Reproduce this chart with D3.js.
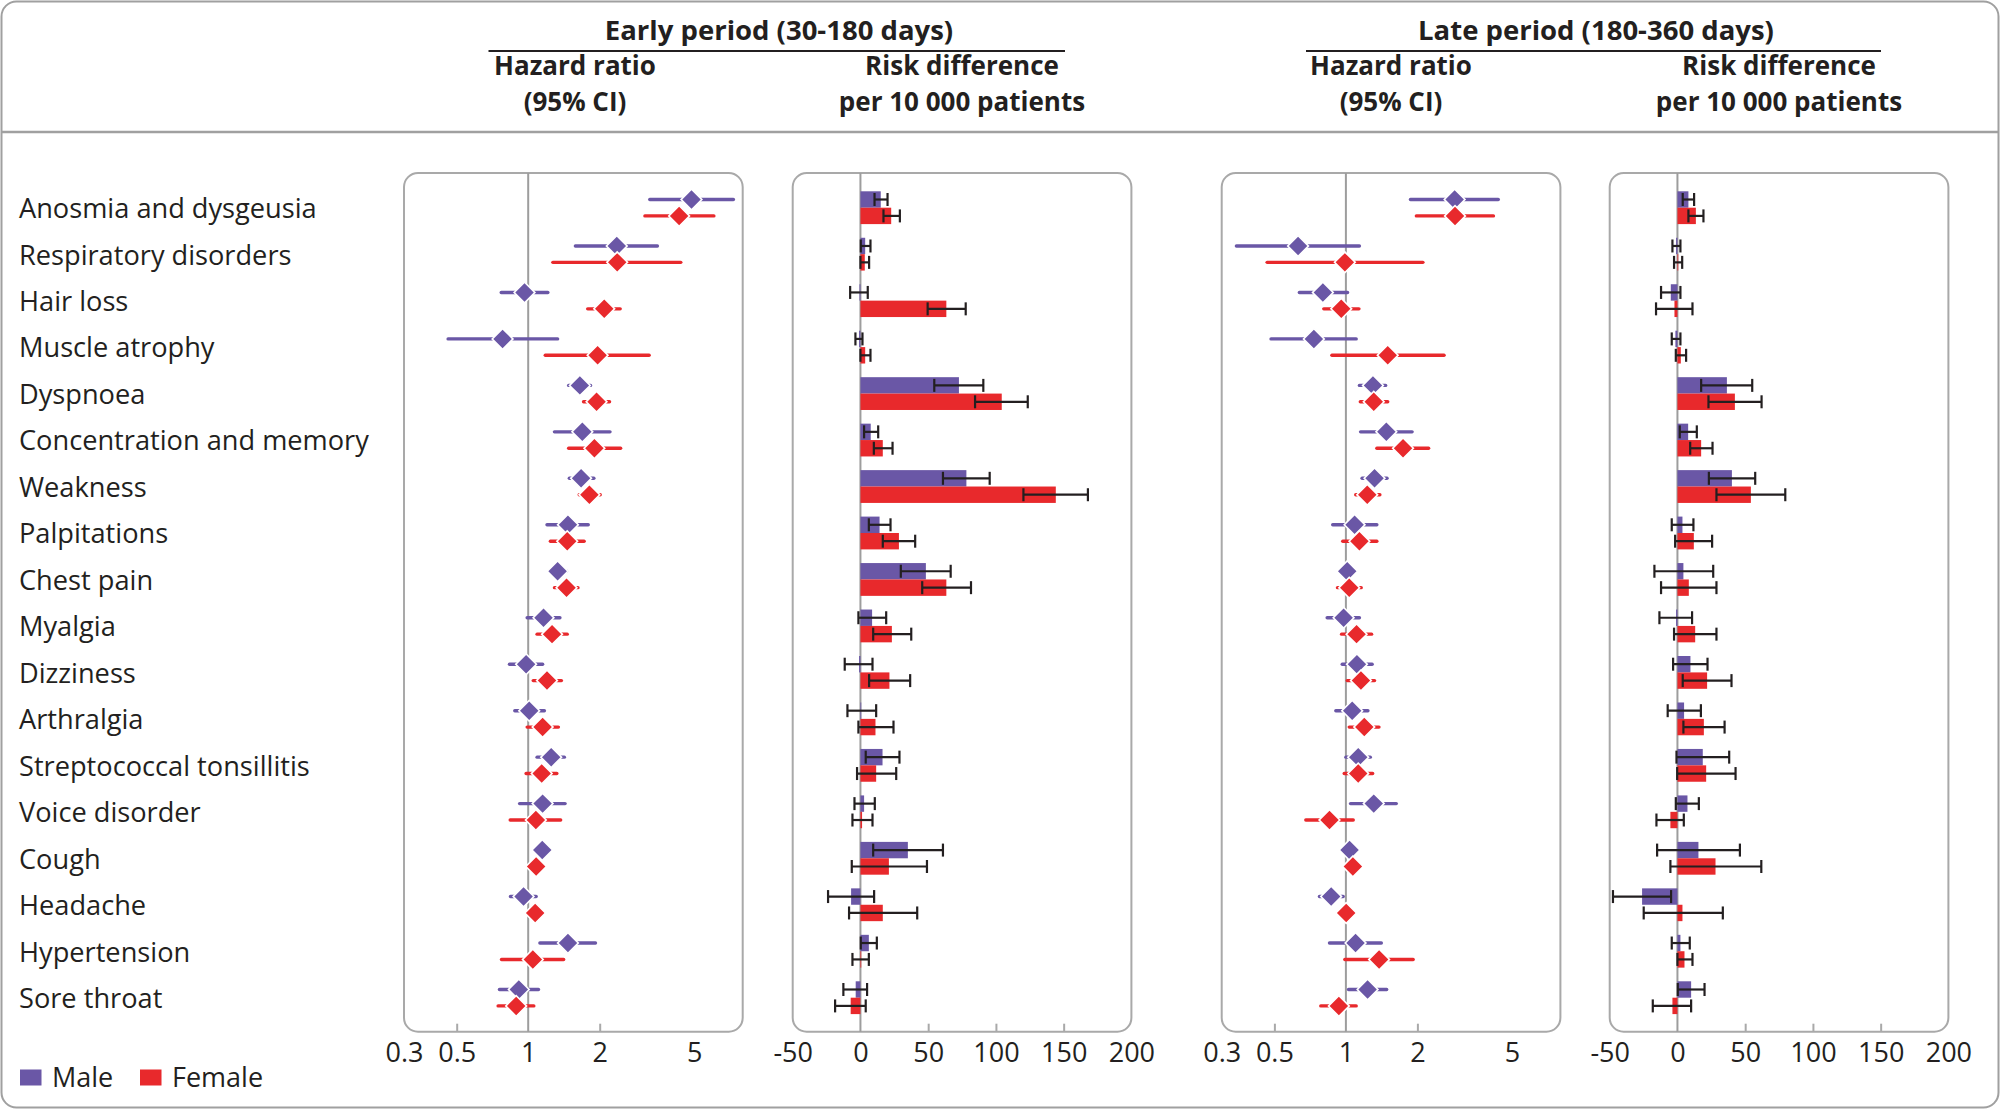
<!DOCTYPE html>
<html><head><meta charset="utf-8">
<script src="https://cdn.jsdelivr.net/npm/d3@7"></script>
<style>
body{margin:0;background:#fff}
svg{display:block}
text{font-family:"Open Sans","Noto Sans",sans-serif;fill:#231f20}
</style>
</head><body>
<script>
// ---------------- DATA ----------------
const categories = ["Anosmia and dysgeusia","Respiratory disorders","Hair loss","Muscle atrophy","Dyspnoea",
  "Concentration and memory","Weakness","Palpitations","Chest pain","Myalgia","Dizziness","Arthralgia",
  "Streptococcal tonsillitis","Voice disorder","Cough","Headache","Hypertension","Sore throat"];
const sexes = ["Male","Female"];
const sexColors = ["#6a57a6","#e8292c"];
const hrTicks = [0.3,0.5,1,2,5];
const rdTicks = [-50,0,50,100,150,200];
const periodTitles = ["Early period (30-180 days)","Late period (180-360 days)"];
const colHeadsHR = ["Hazard ratio","(95% CI)"];
const colHeadsRD = ["Risk difference","per 10 000 patients"];

// [estimate, lower, upper]
const hrEarlyMale = [[4.87,3.25,7.31],[2.36,1.58,3.50],[0.965,0.77,1.21],[0.78,0.46,1.33],[1.65,1.48,1.83],
  [1.69,1.29,2.21],[1.67,1.49,1.89],[1.47,1.20,1.79],[1.33,1.23,1.45],[1.16,0.99,1.36],[0.98,0.834,1.15],
  [1.01,0.878,1.17],[1.25,1.09,1.42],[1.15,0.92,1.43],[1.146,1.10,1.19],[0.956,0.842,1.08],[1.47,1.12,1.92],[0.913,0.757,1.105]];
const hrEarlyFemale = [[4.32,3.10,6.05],[2.37,1.27,4.39],[2.09,1.78,2.44],[1.96,1.18,3.23],[1.94,1.71,2.20],
  [1.90,1.48,2.45],[1.81,1.64,2.01],[1.46,1.24,1.72],[1.45,1.29,1.62],[1.26,1.09,1.46],[1.20,1.05,1.38],
  [1.15,0.99,1.34],[1.14,0.98,1.32],[1.077,0.84,1.37],[1.08,1.04,1.12],[1.07,1.03,1.11],[1.046,0.772,1.41],[0.89,0.747,1.056]];
const hrLateMale = [[2.87,1.87,4.38],[0.629,0.346,1.14],[0.80,0.637,1.016],[0.733,0.484,1.105],[1.30,1.14,1.47],
  [1.48,1.153,1.90],[1.32,1.17,1.49],[1.088,0.88,1.35],[1.013,0.95,1.08],[0.978,0.834,1.14],[1.113,0.965,1.29],
  [1.063,0.907,1.238],[1.127,1.0,1.267],[1.31,1.046,1.63],[1.036,0.99,1.08],[0.867,0.774,0.974],[1.098,0.853,1.41],[1.234,1.026,1.485]];
const hrLateFemale = [[2.88,1.98,4.18],[0.99,0.466,2.11],[0.956,0.807,1.135],[1.50,0.873,2.59],[1.31,1.15,1.50],
  [1.74,1.35,2.23],[1.23,1.10,1.39],[1.14,0.97,1.35],[1.033,0.922,1.16],[1.109,0.959,1.283],[1.157,1.013,1.32],
  [1.195,1.033,1.378],[1.127,0.984,1.296],[0.853,0.678,1.074],[1.07,1.03,1.11],[1.003,0.96,1.05],[1.38,0.99,1.92],[0.934,0.784,1.105]];
const rdEarlyMale = [[15.0,10.4,20.0],[3.5,0.25,7.4],[-0.7,-7.6,5.4],[-1.0,-3.7,1.5],[72.7,54.5,90.7],
  [7.6,2.7,13.1],[78.2,60.9,95.4],[14.1,6.2,22.2],[48.3,29.8,66.6],[8.6,-1.5,19.0],[-1.0,-11.6,8.9],
  [0.5,-9.6,11.6],[16.3,3.9,28.8],[2.7,-4.4,10.6],[35.0,9.4,60.9],[-6.9,-23.9,10.1],[6.2,0.25,12.1],[-3.5,-12.6,4.9]];
const rdEarlyFemale = [[22.7,17.0,29.1],[3.2,0.0,6.4],[63.4,49.6,77.7],[3.5,0.0,7.4],[104.3,84.6,123.5],
  [16.5,9.9,23.7],[144.2,120.3,167.9],[28.4,16.5,40.4],[63.4,45.6,81.6],[23.2,9.4,37.5],[21.4,6.4,36.7],
  [11.1,-1.5,24.4],[11.6,-2.5,26.4],[1.2,-5.9,8.9],[21.0,-6.4,49.1],[16.5,-8.4,41.9],[0.5,-5.9,6.2],[-7.2,-18.7,3.9]];
const rdLateMale = [[8.1,3.9,12.3],[-1.0,-3.7,2.2],[-4.9,-12.1,2.2],[-1.5,-4.2,2.2],[36.5,17.5,55.2],
  [7.9,1.7,14.3],[40.2,23.2,57.4],[3.7,-4.2,11.8],[4.4,-17.0,26.4],[-1.0,-13.3,10.8],[9.6,-3.2,22.2],
  [4.9,-7.2,17.3],[18.7,-0.7,38.2],[7.4,-1.2,15.8],[15.5,-15.0,46.1],[-26.1,-47.6,-4.7],[2.2,-4.2,9.1],[10.1,0.25,20.0]];
const rdLateFemale = [[13.6,8.1,19.2],[0.2,-2.5,3.5],[-2.2,-15.8,11.1],[2.5,-1.2,6.4],[42.4,22.9,62.1],
  [17.5,9.4,25.9],[54.2,28.8,79.6],[12.1,-1.7,25.6],[8.4,-12.1,28.8],[13.1,-2.5,28.8],[21.9,3.9,39.9],
  [19.5,4.4,34.8],[21.2,-0.2,42.9],[-5.2,-15.5,4.7],[28.1,-5.2,61.9],[3.7,-24.9,33.5],[5.2,0.0,11.1],[-3.7,-18.2,10.1]];

// ---------------- LAYOUT ----------------
const W = 2000, H = 1111;
const panelW = 338.7, panelTop = 173, panelBottom = 1031.7;
const panels = [
  {x:404,   type:"hr", series:[hrEarlyMale, hrEarlyFemale]},
  {x:792.7, type:"rd", series:[rdEarlyMale, rdEarlyFemale]},
  {x:1221.7,type:"hr", series:[hrLateMale, hrLateFemale]},
  {x:1609.7,type:"rd", series:[rdLateMale, rdLateFemale]}
];
const gray = "#a9a9a9";

const svg = d3.select("body").append("svg").attr("width", W).attr("height", H);

// outer frame + separator
svg.append("rect").attr("x",1.5).attr("y",1.5).attr("width",W-3).attr("height",1106)
  .attr("rx",15).attr("fill","none").attr("stroke","#a0a0a0").attr("stroke-width",2);
svg.append("line").attr("x1",1.5).attr("x2",W-1.5).attr("y1",132).attr("y2",132)
  .attr("stroke","#a0a0a0").attr("stroke-width",2.5);

// headers
const headerGroups = [
  {title:periodTitles[0], cx:779, ux:[488.5,1065], hr:575, rd:962},
  {title:periodTitles[1], cx:1596, ux:[1306,1881], hr:1391, rd:1779}
];
function twoLine(x, lines) {
  lines.forEach((s,i)=> svg.append("text").attr("x",x).attr("y", i ? 110.5 : 75)
    .attr("text-anchor","middle").attr("font-size",26).attr("font-weight",700).text(s));
}
headerGroups.forEach(h => {
  svg.append("text").attr("x",h.cx).attr("y",40).attr("text-anchor","middle")
    .attr("font-size",27.5).attr("font-weight",700).text(h.title);
  svg.append("line").attr("x1",h.ux[0]).attr("x2",h.ux[1]).attr("y1",51).attr("y2",51)
    .attr("stroke","#231f20").attr("stroke-width",2.2);
  twoLine(h.hr, colHeadsHR);
  twoLine(h.rd, colHeadsRD);
});

// scales
const y = d3.scalePoint().domain(categories).range([207.7, 997.7]);
const ySub = d3.scaleBand().domain(sexes).range([-16.4, 16.4]);

// category labels
svg.append("g").selectAll("text").data(categories).join("text")
  .attr("x",19).attr("y",d=>y(d)).attr("dy","0.38em").attr("font-size",27.2).text(d=>d);

const diamond = d3.symbol().type(d3.symbolSquare).size(215);

panels.forEach(p => {
  const g = svg.append("g");
  const x = p.type === "hr"
    ? d3.scaleLog().domain([0.3, 8]).range([p.x, p.x + panelW])
    : d3.scaleLinear().domain([-50, 200]).range([p.x, p.x + panelW]);
  const ref = p.type === "hr" ? 1 : 0;

  // frame
  g.append("rect").attr("x",p.x).attr("y",panelTop).attr("width",panelW).attr("height",panelBottom-panelTop)
    .attr("rx",14).attr("fill","none").attr("stroke",gray).attr("stroke-width",2);
  // reference line
  g.append("line").attr("x1",x(ref)).attr("x2",x(ref)).attr("y1",panelTop).attr("y2",panelBottom)
    .attr("stroke","#9d9d9d").attr("stroke-width",2);

  // axis
  const ticks = p.type === "hr" ? hrTicks : rdTicks;
  const ax = g.append("g").attr("transform",`translate(0,${panelBottom})`)
    .call(d3.axisBottom(x).tickValues(ticks).tickFormat(d=>String(d))
      .tickSizeInner(-8).tickSizeOuter(0).tickPadding(11));
  ax.select(".domain").remove();
  ax.selectAll(".tick line").attr("stroke",gray).attr("stroke-width",2)
    .filter(d => d === ticks[0] || d === ticks[ticks.length-1] || d === ref).remove();
  ax.selectAll(".tick text").attr("font-size",27).attr("fill","#231f20")
    .style("font-family",'"Open Sans","Noto Sans",sans-serif');

  p.series.forEach((data, si) => {
    const sex = sexes[si], col = sexColors[si];
    const yc = (d,i) => y(categories[i]) + ySub(sex) + ySub.bandwidth()/2;
    if (p.type === "hr") {
      g.append("g").selectAll("line").data(data).join("line")
        .attr("x1",d=>x(d[1])).attr("x2",d=>x(d[2]))
        .attr("y1",yc).attr("y2",yc)
        .attr("stroke",col).attr("stroke-width",3.4).attr("stroke-linecap","round");
      g.append("g").selectAll("path").data(data).join("path")
        .attr("d",diamond)
        .attr("transform",(d,i)=>`translate(${x(d[0])},${yc(d,i)}) rotate(45)`)
        .attr("fill",col).attr("stroke","#fff").attr("stroke-width",1.6);
    } else {
      g.append("g").selectAll("rect").data(data).join("rect")
        .attr("x",d=>Math.min(x(0),x(d[0])))
        .attr("width",d=>Math.max(0.8, Math.abs(x(d[0])-x(0))))
        .attr("y",(d,i)=>y(categories[i]) + ySub(sex))
        .attr("height",ySub.bandwidth())
        .attr("fill",col);
      const eg = g.append("g").selectAll("g").data(data).join("g")
        .attr("stroke","#231f20").attr("stroke-width",2.2);
      eg.append("line").attr("x1",d=>x(d[1])).attr("x2",d=>x(d[2]))
        .attr("y1",yc).attr("y2",yc);
      eg.append("line").attr("x1",d=>x(d[1])).attr("x2",d=>x(d[1]))
        .attr("y1",(d,i)=>yc(d,i)-6.5).attr("y2",(d,i)=>yc(d,i)+6.5);
      eg.append("line").attr("x1",d=>x(d[2])).attr("x2",d=>x(d[2]))
        .attr("y1",(d,i)=>yc(d,i)-6.5).attr("y2",(d,i)=>yc(d,i)+6.5);
    }
  });
});

// legend
const leg = svg.append("g");
const legX = [20, 140];
sexes.forEach((s,i)=>{
  leg.append("rect").attr("x",legX[i]).attr("y",1069.5).attr("width",21.5).attr("height",16).attr("fill",sexColors[i]);
  leg.append("text").attr("x",legX[i]+32).attr("y",1078).attr("dy","0.35em").attr("font-size",27).text(s);
});
</script>
</body></html>
